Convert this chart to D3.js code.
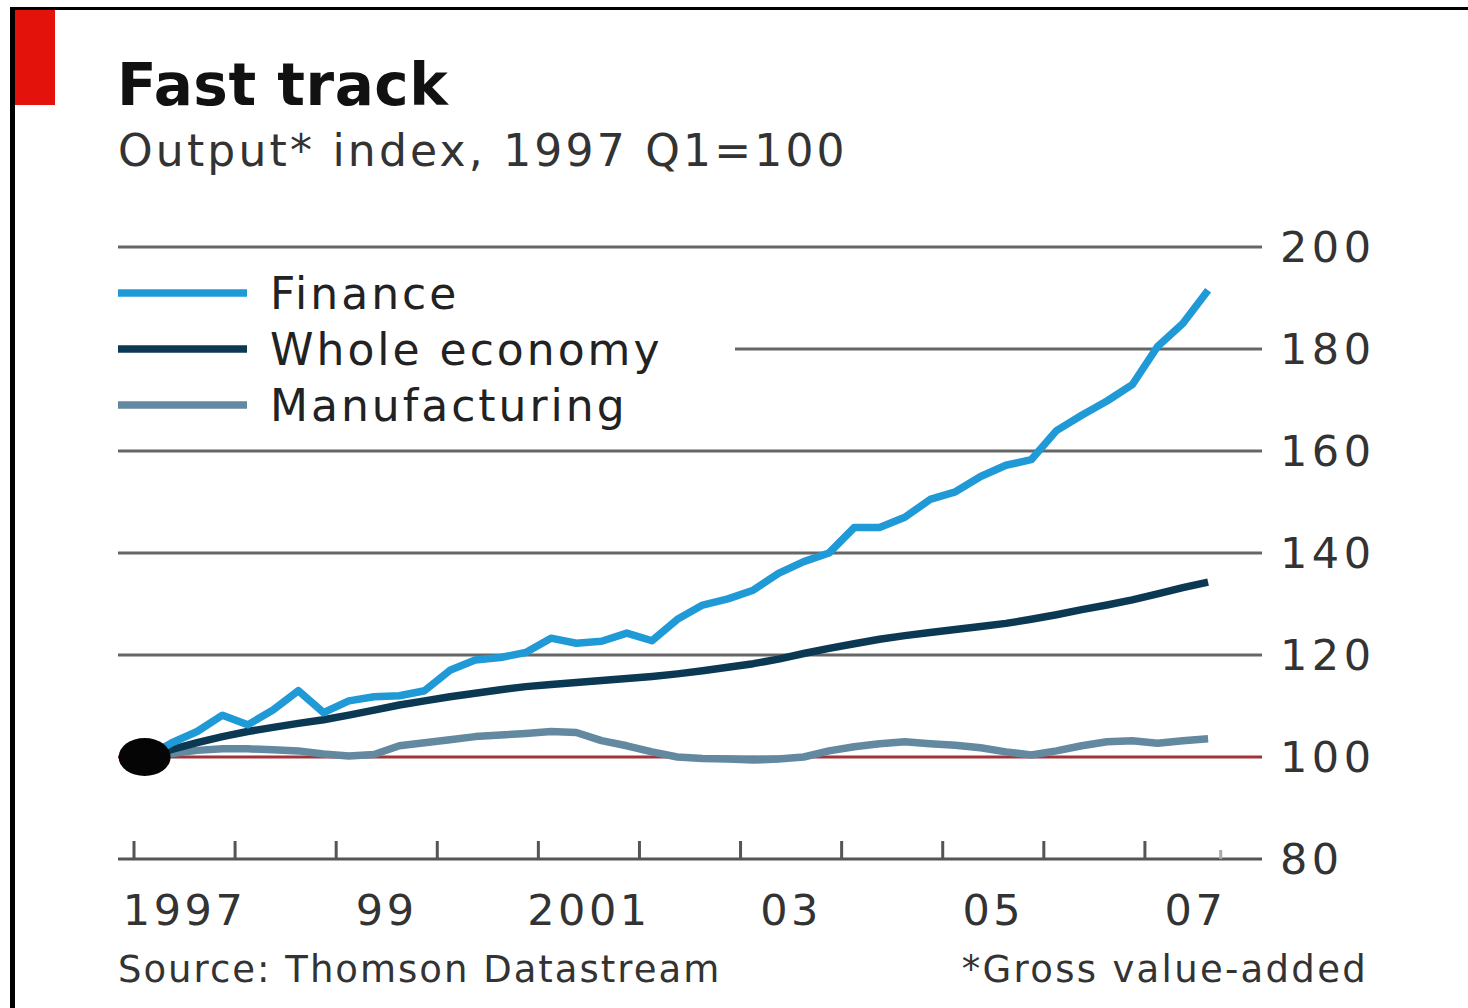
<!DOCTYPE html>
<html>
<head>
<meta charset="utf-8">
<script src="https://cdn.jsdelivr.net/npm/d3@7"></script>
<style>
  body { margin: 0; background: #fff; }
  text { font-family: 'DejaVu Sans', sans-serif; }
</style>
</head>
<body>
<div id="chart"></div>
<script>
// quarterly, 1997 Q1 .. 2007 Q3
const startYear = 1997;
const finance = [100, 102.8, 105, 108.2, 106.3, 109.2, 113, 108.7, 111, 111.8, 112, 113,
  117, 119, 119.5, 120.5, 123.3, 122.3, 122.7, 124.3, 122.8, 127, 129.8, 131,
  132.7, 136, 138.3, 140, 145, 145, 147, 150.5, 152, 155, 157.2, 158.3,
  164, 167, 169.8, 173, 180.5, 185, 191.5];
const wholeEconomy = [100, 101.5, 102.8, 104, 105, 105.8, 106.6, 107.3, 108.2, 109.2, 110.2, 111,
  111.8, 112.5, 113.2, 113.8, 114.2, 114.6, 115, 115.4, 115.8, 116.3, 116.9, 117.6,
  118.3, 119.2, 120.3, 121.3, 122.2, 123.1, 123.8, 124.4, 125, 125.6, 126.2, 127,
  127.9, 128.9, 129.8, 130.8, 132, 133.2, 134.3];
const manufacturing = [100, 100.7, 101.3, 101.6, 101.6, 101.4, 101.2, 100.6, 100.2, 100.5, 102.2, 102.8,
  103.4, 104, 104.3, 104.6, 105, 104.8, 103.2, 102.2, 101, 100, 99.7, 99.6,
  99.4, 99.6, 100, 101.2, 102, 102.6, 103, 102.6, 102.3, 101.8, 101, 100.4,
  101.2, 102.2, 103, 103.2, 102.7, 103.2, 103.6];

const seriesNames = ['Finance', 'Whole economy', 'Manufacturing'];
const seriesColors = ['#1f9ad6', '#0b3954', '#6289a0'];
const yTicks = [80, 100, 120, 140, 160, 180, 200];
const yearTicks = d3.range(1997, 2008);
const yearLabels = ['1997', '99', '2001', '03', '05', '07'];

const width = 1468, height = 1008;
const gridLeft = 118, gridRight = 1262;

const svg = d3.select('#chart').append('svg')
  .attr('width', width)
  .attr('height', height);

// frame + red tag
svg.append('rect').attr('x', 0).attr('y', 0).attr('width', width).attr('height', height).attr('fill', '#fff');
svg.append('line').attr('x1', 10).attr('x2', width).attr('y1', 8.5).attr('y2', 8.5)
  .attr('stroke', '#000').attr('stroke-width', 3);
svg.append('line').attr('x1', 12.5).attr('x2', 12.5).attr('y1', 7).attr('y2', height)
  .attr('stroke', '#000').attr('stroke-width', 5);
svg.append('rect').attr('x', 15).attr('y', 10).attr('width', 40).attr('height', 95).attr('fill', '#e3120b');

// titles
svg.append('text').attr('x', 117).attr('y', 105)
  .attr('font-size', 58).attr('font-weight', 'bold').attr('letter-spacing', 0.5).attr('fill', '#111')
  .text('Fast track');
svg.append('text').attr('x', 118).attr('y', 166)
  .attr('font-size', 44).attr('letter-spacing', 3.2).attr('fill', '#333')
  .text('Output* index, 1997 Q1=100');

const x = d3.scaleLinear().domain([1997, 2008]).range([134, 1246]);
const y = d3.scaleLinear().domain([80, 200]).range([859, 247]);

// gridlines
const grid = svg.append('g');
grid.selectAll('line')
  .data(yTicks.filter(d => d !== 80 && d !== 100))
  .enter()
  .append('line')
  .attr('x1', gridLeft)
  .attr('x2', gridRight)
  .attr('y1', d => y(d))
  .attr('y2', d => y(d))
  .attr('stroke', '#666')
  .attr('stroke-width', 3);

// y labels
svg.append('g').selectAll('text')
  .data(yTicks)
  .enter()
  .append('text')
  .attr('x', 1280)
  .attr('y', d => y(d) + 15)
  .attr('font-size', 43)
  .attr('letter-spacing', 4.5)
  .attr('fill', '#333')
  .text(d => d);

// x axis
svg.append('line').attr('x1', gridLeft).attr('x2', gridRight)
  .attr('y1', y(80)).attr('y2', y(80))
  .attr('stroke', '#555').attr('stroke-width', 3);

svg.append('g').selectAll('line')
  .data(yearTicks)
  .enter()
  .append('line')
  .attr('x1', d => x(d))
  .attr('x2', d => x(d))
  .attr('y1', y(80))
  .attr('y2', y(80) - 18)
  .attr('stroke', '#555')
  .attr('stroke-width', 3);

svg.append('line')
  .attr('x1', x(2007.75)).attr('x2', x(2007.75))
  .attr('y1', y(80)).attr('y2', y(80) - 9)
  .attr('stroke', '#aaa').attr('stroke-width', 3);

svg.append('g').selectAll('text')
  .data(yearLabels)
  .enter()
  .append('text')
  .attr('x', (d, i) => x(1997 + 2 * i + 0.5))
  .attr('y', 925)
  .attr('text-anchor', 'middle')
  .attr('font-size', 43)
  .attr('letter-spacing', 3.5)
  .attr('fill', '#333')
  .text(d => d);

// legend (sits on top of the 180 gridline)
svg.append('rect').attr('x', 110).attr('y', 262).attr('width', 625).attr('height', 175).attr('fill', '#fff');
const legend = svg.append('g');
seriesNames.forEach((name, i) => {
  const ly = 293 + i * 56;
  legend.append('line')
    .attr('x1', 118).attr('x2', 247)
    .attr('y1', ly).attr('y2', ly)
    .attr('stroke', seriesColors[i])
    .attr('stroke-width', 7.5);
  legend.append('text')
    .attr('x', 270).attr('y', ly + 16)
    .attr('font-size', 44)
    .attr('letter-spacing', 3)
    .attr('fill', '#222')
    .text(name);
});

// 100 baseline
svg.append('line').attr('x1', gridLeft).attr('x2', gridRight)
  .attr('y1', y(100)).attr('y2', y(100))
  .attr('stroke', '#a3333b').attr('stroke-width', 3);

// series
const qx = i => x(startYear + (i + 0.5) / 4);
const line = d3.line()
  .x((d, i) => qx(i))
  .y(d => y(d));

[manufacturing, wholeEconomy, finance].forEach((data, k) => {
  const ci = [2, 1, 0][k];
  svg.append('path')
    .datum(data)
    .attr('fill', 'none')
    .attr('stroke', seriesColors[ci])
    .attr('stroke-width', 7.5)
    .attr('stroke-linejoin', 'round')
    .attr('d', line);
});

// start marker
svg.append('ellipse')
  .attr('cx', qx(0) - 2)
  .attr('cy', y(100))
  .attr('rx', 26)
  .attr('ry', 19)
  .attr('fill', '#050505');

// footer
svg.append('text').attr('x', 118).attr('y', 982)
  .attr('font-size', 37).attr('letter-spacing', 2).attr('fill', '#333')
  .text('Source: Thomson Datastream');
svg.append('text').attr('x', 1368).attr('y', 982)
  .attr('text-anchor', 'end')
  .attr('font-size', 37).attr('letter-spacing', 2.3).attr('fill', '#333')
  .text('*Gross value-added');
</script>
</body>
</html>
